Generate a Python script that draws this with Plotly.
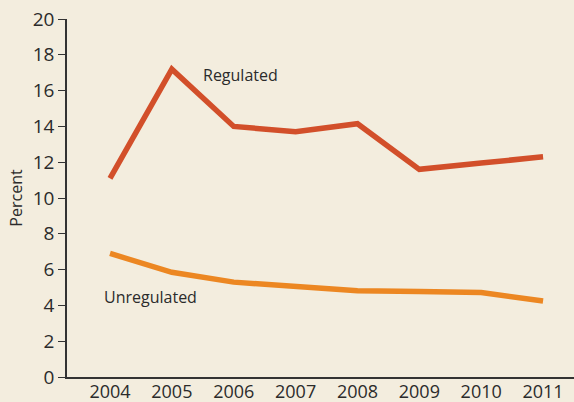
import plotly.graph_objects as go

years = [2004, 2005, 2006, 2007, 2008, 2009, 2010, 2011]
regulated = [11.1, 17.2, 14.0, 13.7, 14.15, 11.6, 11.95, 12.3]
unregulated = [6.9, 5.85, 5.3, 5.05, 4.82, 4.78, 4.72, 4.25]
y_ticks = [0, 2, 4, 6, 8, 10, 12, 14, 16, 18, 20]

bg = "#F3EDDE"
txt = "#2B2B2B"
font = "Open Sans"

fig = go.Figure()
fig.add_trace(go.Scatter(x=years, y=regulated, mode="lines",
                         line=dict(color="#D24F2A", width=5.5), hoverinfo="skip"))
fig.add_trace(go.Scatter(x=years, y=unregulated, mode="lines",
                         line=dict(color="#EC8722", width=5.5), hoverinfo="skip"))

fig.add_annotation(x=2005.47, y=16.85, text="Regulated", showarrow=False,
                   xanchor="left", yanchor="middle",
                   font=dict(family=font, size=16, color=txt))
fig.add_annotation(x=2003.87, y=4.47, text="Unregulated", showarrow=False,
                   xanchor="left", yanchor="middle",
                   font=dict(family=font, size=16, color=txt))

fig.update_layout(
    width=574, height=402,
    paper_bgcolor=bg, plot_bgcolor=bg,
    margin=dict(l=67, r=0, t=19, b=25),
    showlegend=False,
    font=dict(family=font, color=txt),
    xaxis=dict(range=[2003.305, 2011.5], tickmode="array", tickvals=years,
               ticktext=[str(y) for y in years], showgrid=False, zeroline=False,
               showline=True, linecolor="#333333", linewidth=1.5, ticks="",
               ticklabelstandoff=-2, automargin=False,
               tickfont=dict(family=font, size=18, color=txt), fixedrange=True),
    yaxis=dict(range=[0, 20], tickmode="array", tickvals=y_ticks,
               showgrid=False, zeroline=False, showline=True, linecolor="#333333",
               linewidth=1.5, ticks="outside", ticklen=7, tickcolor="#333333",
               automargin=False,
               tickfont=dict(family=font, size=19, color=txt),
               title=dict(text="Percent", font=dict(family=font, size=16, color=txt),
                          standoff=6), fixedrange=True),
)

fig.write_html("out.html", config={"displayModeBar": False},
               post_script="document.body.style.margin='0';document.body.style.padding='0';document.body.style.overflow='hidden';")
